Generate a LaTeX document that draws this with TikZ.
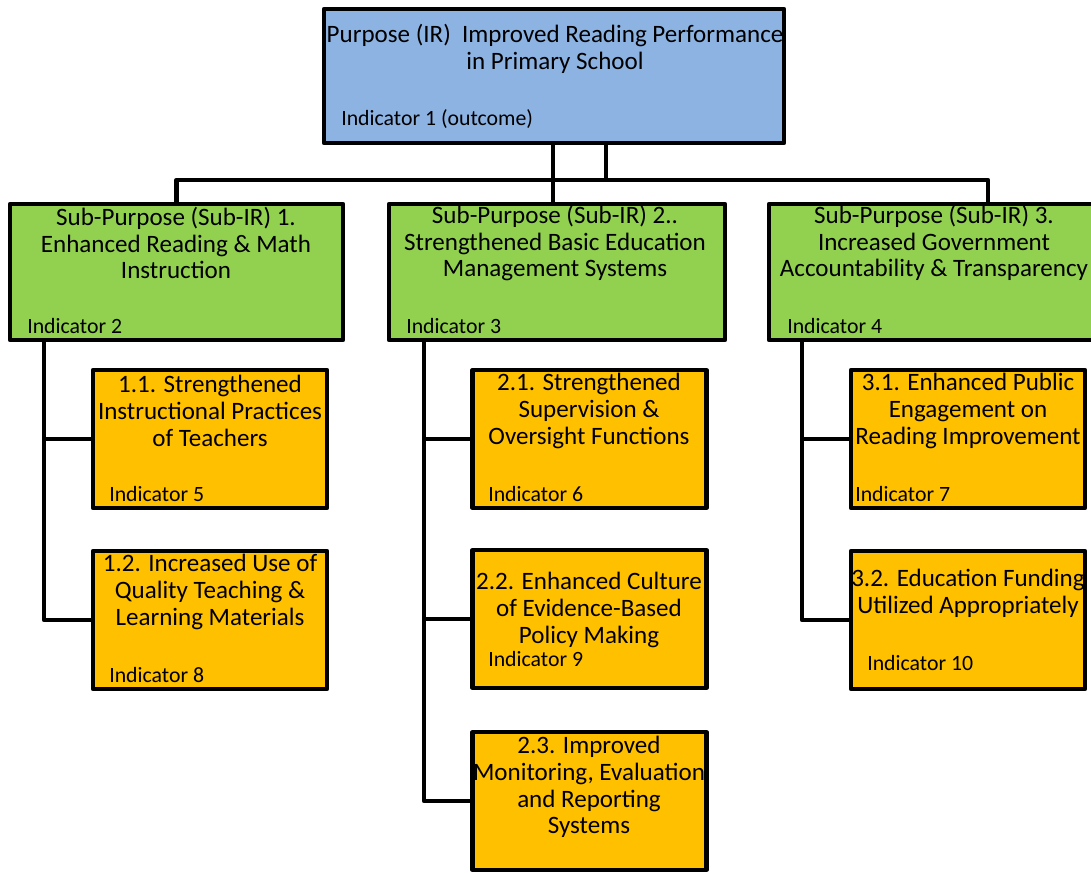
\documentclass[tikz,border=0pt]{standalone}
\usepackage{fontspec}
\setmainfont{Carlito}
\usetikzlibrary{positioning}

\definecolor{irblue}{HTML}{8DB3E2}
\definecolor{subgreen}{HTML}{92D050}
\definecolor{resorange}{HTML}{FFC000}

\tikzset{
  boxframe/.style={draw=black, line width=3pt, line join=round},
  irbox/.style={boxframe, fill=irblue, minimum width=460*0.025cm, minimum height=134*0.025cm},
  subbox/.style={boxframe, fill=subgreen, minimum width=#1*0.025cm, minimum height=136*0.025cm},
  resbox/.style={boxframe, fill=resorange, minimum width=234*0.025cm, minimum height=138*0.025cm},
  boxtitle/.style={align=center, font=\fontsize{17.8}{19}\selectfont, inner sep=0pt},
  ind/.style={anchor=west, font=\fontsize{15.5}{17}\selectfont, inner sep=0pt},
  conn/.style={line width=3.4pt, line join=round}
}

\begin{document}
\begin{tikzpicture}[x=0.025cm, y=-0.025cm]
    \useasboundingbox (0,0) rectangle (1091,873);

    % Purpose (IR)
    \node[irbox] (ir) at (554,76) {};
    \node[boxtitle] (irt) at (555,49) {Purpose (IR)\ \ Improved Reading Performance\\in Primary School};
    \node[ind] (i1) at (341,119) {Indicator 1 (outcome)};

    % Sub-Purposes
    \node[subbox=333] (g1) at (176.5,272) {};
    \node[boxtitle] (g1t) at (176,243) {Sub-Purpose (Sub-IR) 1.\\Enhanced Reading \& Math\\Instruction};
    \node[ind] (i2) at (27,326) {Indicator 2};

    \node[subbox=336] (g2) at (557,272) {};
    \node[boxtitle] (g2t) at (555,243) {Sub-Purpose (Sub-IR) 2..\\Strengthened Basic Education\\Management Systems};
    \node[ind] (i3) at (406,326) {Indicator 3};

    \node[subbox=332] (g3) at (935,272) {};
    \node[boxtitle] (g3t) at (934,243) {Sub-Purpose (Sub-IR) 3.\\Increased Government\\Accountability \& Transparency};
    \node[ind] (i4) at (787,326) {Indicator 4};

    % Results under Sub-Purpose 1
    \node[resbox] (o11) at (210,439) {};
    \node[boxtitle] (o11t) at (210,411) {1.1. Strengthened\\Instructional Practices\\of Teachers};
    \node[ind] (i5) at (109,494) {Indicator 5};

    \node[resbox] (o12) at (210,620) {};
    \node[boxtitle] (o12t) at (210,592) {1.2. Increased Use of\\Quality Teaching \&\\Learning Materials};
    \node[ind] (i8) at (109,675) {Indicator 8};

    % Results under Sub-Purpose 2
    \node[resbox] (o21) at (589.5,439) {};
    \node[boxtitle] (o21t) at (589,411) {2.1. Strengthened\\Supervision \&\\Oversight Functions};
    \node[ind] (i6) at (488,494) {Indicator 6};

    \node[resbox] (o22) at (589.5,619) {};
    \node[boxtitle] (o22t) at (589,610) {2.2. Enhanced Culture\\of Evidence-Based\\Policy Making};
    \node[ind] (i9) at (488,659) {Indicator 9};

    \node[resbox] (o23) at (589.5,801) {};
    \node[boxtitle] (o23t) at (589,787) {2.3. Improved\\Monitoring, Evaluation\\and Reporting\\Systems};

    % Results under Sub-Purpose 3
    \node[resbox] (o31) at (968,439) {};
    \node[boxtitle] (o31t) at (968,411) {3.1. Enhanced Public\\Engagement on\\Reading Improvement};
    \node[ind] (i7) at (855,494) {Indicator 7};

    \node[resbox] (o32) at (968,620) {};
    \node[boxtitle] (o32t) at (968,593) {3.2. Education Funding\\Utilized Appropriately};
    \node[ind] (i10) at (867,663) {Indicator 10};

    % Purpose to sub-purposes
    \draw[conn] (ir.south -| 553,0) -- (g2.north -| 553,0);
    \draw[conn] (ir.south -| 606,0) -- (606,180);
    \draw[conn] (g1.north) |- (988,180) -- (g3.north -| 988,0);

    % Sub-purposes to results
    \draw[conn] (g1.south -| 44,0) |- (o12.west);
    \draw[conn] (o11.west -| 44,0) -- (o11.west);

    \draw[conn] (g2.south -| 424,0) |- (o23.west);
    \draw[conn] (o21.west -| 424,0) -- (o21.west);
    \draw[conn] (o22.west -| 424,0) -- (o22.west);

    \draw[conn] (g3.south -| 802,0) |- (o32.west);
    \draw[conn] (o31.west -| 802,0) -- (o31.west);
\end{tikzpicture}
\end{document}
